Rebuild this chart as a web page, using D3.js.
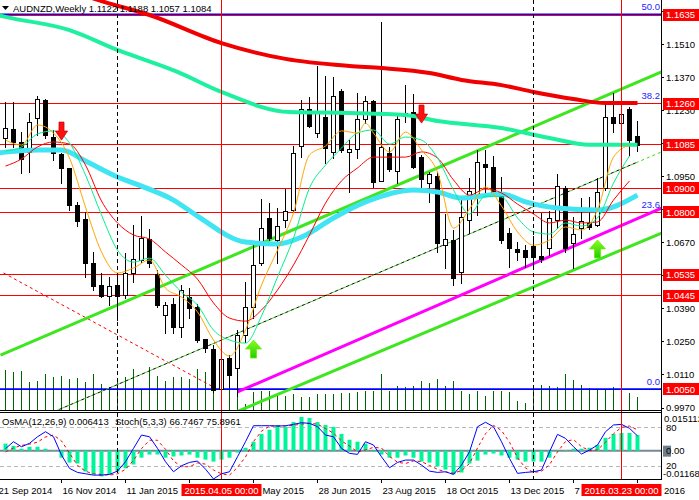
<!DOCTYPE html>
<html><head><meta charset="utf-8">
<script src="https://cdn.jsdelivr.net/npm/d3@7/dist/d3.min.js"></script>
<style>
html,body{margin:0;padding:0;background:#fff;}
svg{display:block;}
text{font-family:"Liberation Sans",Arial,sans-serif;font-size:9.5px;}
</style></head><body>
<svg id="chart" width="699" height="500"></svg>
<script>
// ---------- DATA ----------
const symbol = "AUDNZD,Weekly";
const lastOHLC = [1.1122, 1.1188, 1.1057, 1.1084];
// weekly candles, index 0 = 28 Sep 2014 ... index 79 = 3 Apr 2016
const open  = [1.1113,1.1151,1.1098,1.1056,1.1197,1.1275,1.1120,1.1046,1.0985,1.0830,
               1.0769,1.0585,1.0491,1.0444,1.0491,1.0449,1.0540,1.0597,1.0685,1.0537,
               1.0365,1.0410,1.0312,1.0441,1.0399,1.0261,1.0218,1.0049,1.0180,1.0138,
               1.0279,1.0399,1.0583,1.0773,1.0682,1.0767,1.0809,1.1080,1.1235,1.1136,
               1.1201,1.1056,1.1313,1.1053,1.1067,1.1194,1.1271,1.0933,1.1052,1.0975,
               1.1218,1.1223,1.1035,1.0922,1.0953,1.0661,1.0682,1.0545,1.0766,1.0872,
               1.1004,1.0992,1.0879,1.0710,1.0643,1.0639,1.0656,1.0614,1.0646,1.0766,
               1.0900,1.0668,1.0731,1.0752,1.0745,1.0900,1.1201,1.1176,1.1235,1.1122];
const high  = [1.1268,1.1268,1.1141,1.1218,1.1293,1.1278,1.1148,1.1052,1.0987,1.0844,
               1.0801,1.0632,1.0540,1.0526,1.0526,1.0625,1.0745,1.0783,1.0727,1.0554,
               1.0420,1.0435,1.0491,1.0477,1.0412,1.0261,1.0237,1.0180,1.0194,1.0300,
               1.0505,1.0670,1.0854,1.0837,1.0816,1.0896,1.1080,1.1275,1.1286,1.1419,
               1.1377,1.1374,1.1321,1.1105,1.1303,1.1293,1.1273,1.1607,1.1077,1.1211,
               1.1338,1.1299,1.1040,1.0971,1.0971,1.0790,1.0724,1.0851,1.0943,1.1063,
               1.1063,1.1039,1.0950,1.0731,1.0674,1.0660,1.0700,1.0795,1.0803,1.0961,
               1.0910,1.0780,1.0858,1.0865,1.0943,1.1258,1.1303,1.1249,1.1244,1.1188];
const low   = [1.1077,1.1077,1.0967,1.0971,1.1127,1.1115,1.1021,1.0922,1.0809,1.0742,
               1.0526,1.0470,1.0441,1.0406,1.0343,1.0435,1.0505,1.0590,1.0568,1.0400,
               1.0286,1.0286,1.0272,1.0350,1.0251,1.0208,1.0039,1.0045,1.0060,1.0021,
               1.0251,1.0350,1.0576,1.0682,1.0583,1.0738,1.0805,1.1035,1.1160,1.1120,
               1.1007,1.1028,1.1056,1.0884,1.1028,1.1176,1.0908,1.0930,1.0975,1.0922,
               1.1183,1.0985,1.0903,1.0844,1.0629,1.0564,1.0491,1.0498,1.0710,1.0788,
               1.0886,1.0870,1.0670,1.0568,1.0597,1.0568,1.0568,1.0590,1.0618,1.0731,
               1.0630,1.0562,1.0689,1.0730,1.0740,1.0895,1.1141,1.1141,1.1042,1.1057];
const close = [1.1155,1.1098,1.1027,1.1183,1.1278,1.1127,1.1052,1.0985,1.0830,1.0763,
               1.0585,1.0488,1.0444,1.0488,1.0444,1.0540,1.0600,1.0689,1.0585,1.0406,
               1.0406,1.0312,1.0470,1.0392,1.0258,1.0223,1.0046,1.0176,1.0110,1.0279,
               1.0399,1.0576,1.0731,1.0689,1.0741,1.0806,1.1049,1.1235,1.1165,1.1225,
               1.1070,1.1292,1.1063,1.1067,1.1194,1.1271,1.0929,1.1077,1.0982,1.1194,
               1.1208,1.0992,1.0940,1.0960,1.0668,1.0685,1.0519,1.0780,1.0889,1.1013,
               1.0992,1.0879,1.0682,1.0646,1.0632,1.0611,1.0608,1.0600,1.0773,1.0910,
               1.0646,1.0707,1.0763,1.0738,1.0886,1.1201,1.1176,1.1215,1.1105,1.1084];
const volume = [40,38,39,28,29,36,33,34,31,32,28,36,26,23,31,33,41,20,43,34,
                29,33,33,31,41,38,43,31,34,14,6,18,19,19,14,14,16,13,13,16,
                16,16,17,17,18,19,19,36,19,24,23,24,29,27,31,24,29,19,16,19,
                14,19,19,18,9,7,20,25,24,23,36,30,25,22,21,21,23,20,17,13];
// moving averages: [week index, price]
const maRedSlow = [[4,1.1805],[10,1.1716],[12,1.1694],[18,1.1635],[27,1.1516],[35,1.1449],[43,1.1419],[47,1.1410],[53,1.1389],[57,1.1360],[62,1.1338],[66,1.1309],[71,1.1279],[75,1.1262],[79,1.1262]];
const maGreenSlow = [[-1,1.1635],[0,1.1627],[8,1.1571],[14,1.1487],[21.5,1.1394],[27,1.1309],[35.5,1.1224],[43,1.1220],[50,1.1211],[54,1.1186],[62,1.1156],[68,1.1114],[73,1.1085],[79,1.1085]];
const maCyan = [[-1,1.1050],[0,1.1054],[4,1.1063],[7,1.1063],[10,1.1016],[14,1.0949],[17,1.0910],[21,1.0851],[24,1.0783],[30,1.0673],[34,1.0665],[37,1.0694],[41,1.0775],[45,1.0843],[51,1.0894],[54,1.0885],[57,1.0860],[62,1.0877],[65,1.0843],[69,1.0817],[74,1.0809],[79,1.0872]];
const maOrange = [[0,1.1105],[2,1.1084],[4,1.1169],[6,1.1135],[8,1.1029],[10,1.0821],[12,1.0631],[14,1.0542],[16,1.0563],[18,1.0597],[20,1.0478],[22,1.0440],[24,1.0377],[26,1.0258],[28,1.0190],[30,1.0300],[32,1.0491],[34,1.0639],[36,1.0796],[38,1.1042],[40,1.1080],[42,1.1144],[44,1.1135],[45,1.1177],[46,1.1135],[48,1.1055],[50,1.1139],[52,1.1063],[54,1.0970],[56,1.0732],[58,1.0813],[60,1.0906],[62,1.0826],[64,1.0716],[66,1.0660],[68,1.0682],[70,1.0737],[72,1.0724],[74,1.0809],[76,1.1033],[78,1.1084]];
const maGreenFast = [[0,1.1059],[2,1.1076],[4,1.1131],[6,1.1144],[8,1.1093],[10,1.0957],[12,1.0788],[14,1.0639],[16,1.0588],[18,1.0605],[20,1.0533],[22,1.0461],[24,1.0406],[26,1.0300],[28,1.0258],[30,1.0245],[32,1.0360],[34,1.0525],[36,1.0690],[38,1.0902],[40,1.0999],[42,1.1071],[44,1.1135],[46,1.1148],[48,1.1088],[50,1.1118],[52,1.1105],[54,1.1029],[56,1.0894],[58,1.0792],[60,1.0868],[62,1.0864],[64,1.0775],[66,1.0716],[68,1.0707],[70,1.0754],[72,1.0741],[74,1.0775],[76,1.0923],[78,1.1038]];
const maRedFast = [[0,1.0995],[2,1.1025],[4,1.1076],[6,1.1097],[8,1.1088],[10,1.0999],[12,1.0847],[14,1.0754],[16,1.0703],[18,1.0686],[20,1.0631],[22,1.0576],[24,1.0516],[26,1.0415],[28,1.0351],[30,1.0338],[32,1.0385],[34,1.0470],[36,1.0576],[38,1.0703],[40,1.0838],[42,1.0932],[44,1.0987],[46,1.1033],[48,1.1033],[50,1.1033],[52,1.1055],[54,1.1029],[56,1.0936],[58,1.0872],[60,1.0898],[62,1.0881],[64,1.0834],[66,1.0792],[68,1.0754],[70,1.0766],[72,1.0754],[74,1.0758],[76,1.0851],[78,1.0932]];
// horizontal support / resistance levels
const levels = [1.1635,1.1260,1.1085,1.0900,1.0800,1.0535,1.0445,1.0050];
// fibonacci retracement
const fiboLow = 1.0050, fiboHigh = 1.3226;
const fiboLevels = [0, 23.6, 38.2, 50.0];
// trend lines [week index, price]
const trendUpperGreen = [[-0.625,1.0194],[82,1.1394]];
const trendLowerGreen = [[27,0.9927],[82,1.0711]];
const trendMagenta    = [[29,1.0038],[82,1.0817]];
const trendBlack      = [[5,0.9939],[79,1.1012]];
const trendBlackExt   = [[5,0.9939],[82,1.1055]];
const trendRedDashed  = [[-0.25,1.0542],[26.25,1.0054]];
// signal arrows [week index, tip price, direction]
const arrows = [[7,1.1105,"down"],[52,1.1177,"down"],[31,1.0258,"up"],[74,1.0682,"up"]];
// vertical markers
const crossWeeks = [27, 77];
const crossLabels = ["2015.04.05 00:00","2016.03.23 00:00"];
const dashedWeeks = [14, 66];
// axis ticks
const priceTicks = [1.1650,1.1510,1.1370,1.1230,1.1090,1.0950,1.0810,1.0670,1.0530,1.0390,1.0250,1.0110,0.9970];
const timeLabelWeeks = [-1,7,15,23,31,39,47,55,63,71,79];
const timeLabels = ["21 Sep 2014","16 Nov 2014","11 Jan 2015","8 Mar 2015","3 May 2015","28 Jun 2015","23 Aug 2015","18 Oct 2015","13 Dec 2015","7 Feb 2016","3 Apr 2016"];
// indicators
const osma = [0.0029,0.0020,0.0008,0.0016,0.0016,0.0008,0.0002,-0.0029,-0.0049,-0.0053,
              -0.0086,-0.0098,-0.0106,-0.0098,-0.0086,-0.0073,-0.0057,-0.0029,-0.0016,-0.0016,
              -0.0029,-0.0024,-0.0020,-0.0016,-0.0029,-0.0037,-0.0045,-0.0037,-0.0029,-0.0008,
              0.0012,0.0037,0.0069,0.0086,0.0106,0.0098,0.0118,0.0139,0.0135,0.0118,
              0.0106,0.0098,0.0069,0.0045,0.0037,0.0029,-0.0004,-0.0016,-0.0029,-0.0029,
              -0.0020,-0.0029,-0.0045,-0.0049,-0.0065,-0.0078,-0.0098,-0.0090,-0.0053,-0.0041,
              -0.0016,-0.0012,-0.0020,-0.0029,-0.0037,-0.0045,-0.0045,-0.0045,-0.0029,-0.0004,
              0.0002,0.0008,0.0008,0.0012,0.0024,0.0053,0.0069,0.0073,0.0073,0.0064];
const stochMain = [47,57.7,49.9,55.2,65.4,73.2,65.4,37,16.4,10.2,
                   8.1,6,6,7.1,12.2,26.7,47.4,68,65.4,47.4,
                   26.7,11.2,20.5,25.7,27.8,15.3,0,8.1,11.2,34.4,
                   57.7,82.5,82.5,82.5,82,82.5,84.6,87.1,86.2,81,
                   68,65.4,47.4,39.7,38.1,57.7,52.6,34.4,17.4,25.7,
                   29.3,29.3,21.6,12.2,10.2,11.2,7.1,21.6,42.2,80.9,
                   87.8,80.9,57.7,31.9,8.7,10.2,11.2,13.8,42.2,69.1,
                   62.9,49.9,38.6,44.8,52.6,73.2,83.6,84.6,78.4,66.7];
const stochSignal = [42,48,52,54,57,65,68,59,40,21,
                     12,8,7,6,8,15,29,47,60,60,
                     46,28,19,19,25,23,14,8,6,18,
                     34,58,74,82,82,82,83,85,86,85,
                     78,71,59,51,42,45,49,48,35,26,
                     24,28,27,21,15,11,9,13,24,48,
                     70,83,75,57,33,17,10,12,22,42,
                     58,61,50,44,45,57,70,80,82,76];
const osmaMax = 0.015112, osmaMin = -0.01168;
const stochLevels = [80, 20];
const indicatorTitle = ["OsMA(12,26,9) 0.006413", "Stoch(5,3,3) 66.7467 75.8961"];

// ---------- LAYOUT ----------
const plotRight = 661, mainBottom = 410, indTop = 413, indBottom = 479;
const svg = d3.select("#chart");
svg.append("rect").attr("width",699).attr("height",500).attr("fill","#fff");
const defs = svg.append("defs");
defs.append("clipPath").attr("id","clipMain").append("rect").attr("x",0).attr("y",0).attr("width",plotRight).attr("height",mainBottom);
defs.append("clipPath").attr("id","clipInd").append("rect").attr("x",0).attr("y",indTop).attr("width",plotRight).attr("height",indBottom-indTop);
const gradUp = defs.append("linearGradient").attr("id","gUp").attr("x1",0).attr("y1",0).attr("x2",0).attr("y2",1);
gradUp.append("stop").attr("offset","0%").attr("stop-color","#88ff22");
gradUp.append("stop").attr("offset","100%").attr("stop-color","#22cc00");

const x = d3.scaleLinear().domain([0,79]).range([5.5,637.5]);
const y = d3.scaleLinear().domain([0.9970,1.1635]).range([408,15]);
const yVol = d3.scaleLinear().domain([0,50]).range([mainBottom,mainBottom-50]);
const yO = d3.scaleLinear().domain([osmaMin,osmaMax]).range([indBottom,414]);
const yS = d3.scaleLinear().domain([0,100]).range([indBottom,414.4]);
const crisp = v => Math.round(v-0.5)+0.5;

const gMain = svg.append("g").attr("clip-path","url(#clipMain)");
const gInd = svg.append("g").attr("clip-path","url(#clipInd)");

// volumes
gMain.append("g").selectAll("line").data(volume).join("line")
  .attr("x1",(d,i)=>x(i)).attr("x2",(d,i)=>x(i))
  .attr("y1",yVol(0)).attr("y2",d=>yVol(d))
  .attr("stroke","#006400").attr("stroke-width",1);

// level lines
gMain.append("g").selectAll("line").data(levels).join("line")
  .attr("x1",0).attr("x2",plotRight)
  .attr("y1",d=>crisp(y(d))).attr("y2",d=>crisp(y(d)))
  .attr("stroke","#ff0000").attr("stroke-width",1);
// fibo lines (0 and 50 visible in blue)
const fiboPrice = l => fiboLow + (fiboHigh-fiboLow)*l/100;
gMain.append("g").selectAll("line").data(fiboLevels.filter(l=>l===0||l===50)).join("line")
  .attr("x1",0).attr("x2",plotRight)
  .attr("y1",d=>y(fiboPrice(d))).attr("y2",d=>y(fiboPrice(d)))
  .attr("stroke","#0000ff").attr("stroke-width",1.6);

// trend lines
const tl = d3.line().x(d=>x(d[0])).y(d=>y(d[1]));
gMain.append("path").attr("d",tl(trendRedDashed)).attr("fill","none").attr("stroke","#ff0000").attr("stroke-width",1).attr("stroke-dasharray","3,3");
gMain.append("path").attr("d",tl(trendBlackExt)).attr("fill","none").attr("stroke","#33dd11").attr("stroke-width",1).attr("stroke-dasharray","3,3");
gMain.append("path").attr("d",tl(trendBlack)).attr("fill","none").attr("stroke","#000").attr("stroke-width",1).attr("stroke-dasharray","3,3").attr("stroke-dashoffset",3);
gMain.append("path").attr("d",tl(trendUpperGreen)).attr("fill","none").attr("stroke","#3de61e").attr("stroke-width",3);
gMain.append("path").attr("d",tl(trendLowerGreen)).attr("fill","none").attr("stroke","#3de61e").attr("stroke-width",3);
gMain.append("path").attr("d",tl(trendMagenta)).attr("fill","none").attr("stroke","#ff00ff").attr("stroke-width",3);

// candles
const candles = d3.range(open.length).map(i=>({i,o:open[i],h:high[i],l:low[i],c:close[i]}));
const gC = gMain.append("g");
gC.selectAll("line").data(candles).join("line")
  .attr("x1",d=>x(d.i)).attr("x2",d=>x(d.i))
  .attr("y1",d=>Math.round(y(d.h))).attr("y2",d=>Math.round(y(d.l))+1)
  .attr("stroke","#000").attr("stroke-width",1);
gC.selectAll("rect").data(candles).join("rect")
  .each(function(d){
    const top = Math.round(y(Math.max(d.o,d.c))), bot = Math.round(y(Math.min(d.o,d.c)));
    const el = d3.select(this);
    if (d.c >= d.o) {
      el.attr("x",x(d.i)-2).attr("y",top+0.5).attr("width",4).attr("height",Math.max(1,bot-top))
        .attr("fill","#fff").attr("stroke","#000").attr("stroke-width",1);
    } else {
      el.attr("x",x(d.i)-2.5).attr("y",top).attr("width",5).attr("height",Math.max(1,bot-top+1))
        .attr("fill","#000");
    }
  });

// moving averages
const maLine = d3.line().x(d=>x(d[0])).y(d=>y(d[1])).curve(d3.curveMonotoneX);
const drawMA = (data,color,w)=>gMain.append("path").attr("d",maLine(data)).attr("fill","none").attr("stroke",color).attr("stroke-width",w).attr("stroke-linejoin","round");
drawMA(maCyan,"#40e4f2",5);
drawMA(maGreenSlow,"#1ff0a0",4);
drawMA(maRedSlow,"#f00000",4);
drawMA(maRedFast,"#ff0000",1);
drawMA(maGreenFast,"#00f08c",1);
drawMA(maOrange,"#ffa500",1);

// arrows
arrows.forEach(([k,p,dir])=>{
  const cx = x(k), ty = y(p);
  if (dir==="down") {
    gMain.append("path")
      .attr("d",`M${cx-2.5},${ty-18}L${cx+2.5},${ty-18}L${cx+2.5},${ty-9}L${cx+6},${ty-9}L${cx},${ty}L${cx-6},${ty-9}L${cx-2.5},${ty-9}Z`)
      .attr("fill","#ff1010").attr("stroke","#d00000").attr("stroke-width",0.8);
  } else {
    gMain.append("path")
      .attr("d",`M${cx},${ty}L${cx+8},${ty+9}L${cx+3},${ty+9}L${cx+3},${ty+18}L${cx-3},${ty+18}L${cx-3},${ty+9}L${cx-8},${ty+9}Z`)
      .attr("fill","url(#gUp)").attr("stroke","#66ee00").attr("stroke-width",0.8);
  }
});

// fibo labels
svg.append("g").selectAll("text").data(fiboLevels).join("text")
  .attr("x",660).attr("y",d=>y(fiboPrice(d))-4)
  .attr("text-anchor","end").attr("fill","#2222ff").attr("font-size","10.5px")
  .text(d=>d.toFixed(1));

// vertical markers
svg.append("g").selectAll("line").data(crossWeeks).join("line")
  .attr("x1",d=>x(d)).attr("x2",d=>x(d)).attr("y1",0).attr("y2",indBottom)
  .attr("stroke","#ff0000").attr("stroke-width",1);
svg.append("g").selectAll("line").data(dashedWeeks).join("line")
  .attr("x1",d=>x(d)).attr("x2",d=>x(d)).attr("y1",0).attr("y2",indBottom)
  .attr("stroke","#000").attr("stroke-width",1).attr("stroke-dasharray","4,3");

// header
svg.append("path").attr("d","M2,6L9,6L5.5,10Z").attr("fill","#000");
svg.append("text").attr("x",13).attr("y",12).attr("fill","#000")
  .text(symbol + "  " + lastOHLC.map(v=>v.toFixed(4)).join(" "));

// ---------- INDICATOR PANEL ----------
gInd.append("g").selectAll("line").data(stochLevels).join("line")
  .attr("x1",0).attr("x2",plotRight).attr("y1",d=>crisp(yS(d))).attr("y2",d=>crisp(yS(d)))
  .attr("stroke","#b8b8b8").attr("stroke-width",1).attr("stroke-dasharray","4,3");
gInd.append("line").attr("x1",0).attr("x2",plotRight).attr("y1",yO(0)).attr("y2",yO(0))
  .attr("stroke","#7a8796").attr("stroke-width",2);
gInd.append("g").selectAll("rect").data(osma).join("rect")
  .attr("x",(d,i)=>x(i)-2).attr("width",4)
  .attr("y",d=>Math.min(yO(0),yO(d))).attr("height",d=>Math.abs(yO(d)-yO(0)))
  .attr("fill","#00f59b");
const sLine = d3.line().x((d,i)=>x(i)).y(d=>yS(d));
gInd.append("path").attr("d",sLine(stochSignal)).attr("fill","none").attr("stroke","#ff0000").attr("stroke-width",1).attr("stroke-dasharray","3,3");
gInd.append("path").attr("d",sLine(stochMain)).attr("fill","none").attr("stroke","#0000ff").attr("stroke-width",1);
svg.append("text").attr("x",2).attr("y",425).attr("fill","#000").text(indicatorTitle[0]);
svg.append("text").attr("x",115).attr("y",425).attr("fill","#000").text(indicatorTitle[1]);

// ---------- BORDERS ----------
svg.append("line").attr("x1",0).attr("x2",plotRight).attr("y1",410.5).attr("y2",410.5).attr("stroke","#000");
svg.append("line").attr("x1",0).attr("x2",plotRight).attr("y1",412.5).attr("y2",412.5).attr("stroke","#000");
svg.append("line").attr("x1",0).attr("x2",plotRight+1).attr("y1",479.5).attr("y2",479.5).attr("stroke","#000");
svg.append("line").attr("x1",plotRight+0.5).attr("x2",plotRight+0.5).attr("y1",0).attr("y2",480).attr("stroke","#000");

// ---------- PRICE AXIS ----------
const gAx = svg.append("g");
gAx.selectAll("line.t").data(priceTicks).join("line").attr("class","t")
  .attr("x1",plotRight).attr("x2",plotRight+3).attr("y1",d=>crisp(y(d))).attr("y2",d=>crisp(y(d))).attr("stroke","#000");
// labels that a level box fully covers are not visible in the chart
const visibleTicks = priceTicks.filter(t => levels.every(l => Math.abs(y(l)-y(t)) > 4));
gAx.selectAll("text.t").data(visibleTicks).join("text").attr("class","t")
  .attr("x",666).attr("y",d=>y(d)).attr("dy","0.35em").attr("fill","#000")
  .text(d=>d.toFixed(4));
const gLv = svg.append("g");
gLv.selectAll("rect").data(levels).join("rect")
  .attr("x",663).attr("y",d=>Math.round(y(d))-6).attr("width",36).attr("height",12).attr("fill","#ff0000");
gLv.selectAll("text").data(levels).join("text")
  .attr("x",666).attr("y",d=>y(d)).attr("dy","0.36em").attr("fill","#fff")
  .text(d=>d.toFixed(4));

// indicator axis
svg.append("text").attr("x",664).attr("y",yO(osmaMax)+5).attr("dy","0.35em").text(osmaMax.toFixed(6));
svg.append("text").attr("x",666).attr("y",yS(80)).attr("dy","0.35em").text("80");
svg.append("rect").attr("x",663).attr("y",yO(0)-5).attr("width",8).attr("height",11).attr("fill","#6f7d8c");
svg.append("text").attr("x",666).attr("y",yO(0)).attr("dy","0.35em").text("0.00");
svg.append("text").attr("x",666).attr("y",yS(20)).attr("dy","0.35em").text("20");
svg.append("text").attr("x",663).attr("y",yO(osmaMin)-5).attr("dy","0.35em").text(osmaMin.toFixed(5));

// ---------- TIME AXIS ----------
const gT = svg.append("g");
gT.selectAll("line").data(timeLabelWeeks).join("line")
  .attr("x1",d=>x(d)).attr("x2",d=>x(d)).attr("y1",479).attr("y2",483).attr("stroke","#000");
const boxes = crossWeeks.map(k=>[x(k)-40, x(k)+40]);
const meas = svg.append("text").attr("visibility","hidden");
const widthOf = s => { meas.text(s); return meas.node().getComputedTextLength(); };
const spaceW = widthOf("a b") - widthOf("ab");
// draw only the parts of each date label that the crosshair boxes leave visible
timeLabelWeeks.forEach((k,i)=>{
  const words = timeLabels[i].split(" ");
  let cx = x(k)+1, groups = [], cur = null;
  words.forEach(w=>{
    const ww = widthOf(w);
    const hidden = boxes.some(b => cx < b[1] && cx+ww > b[0]);
    if (hidden) { cur = null; }
    else {
      if (!cur) { cur = {x:cx, t:w}; groups.push(cur); } else { cur.t += " " + w; }
    }
    cx += ww + spaceW;
  });
  groups.forEach(g=>gT.append("text").attr("x",g.x).attr("y",494).attr("fill","#000").text(g.t));
});
meas.remove();
const gX = svg.append("g");
gX.selectAll("rect").data(crossWeeks).join("rect")
  .attr("x",d=>x(d)-40).attr("y",484).attr("width",80).attr("height",12).attr("fill","#ff0000");
gX.selectAll("text").data(crossWeeks).join("text")
  .attr("x",d=>x(d)).attr("y",494).attr("text-anchor","middle").attr("fill","#fff")
  .text((d,i)=>crossLabels[i]);
</script></body></html>
